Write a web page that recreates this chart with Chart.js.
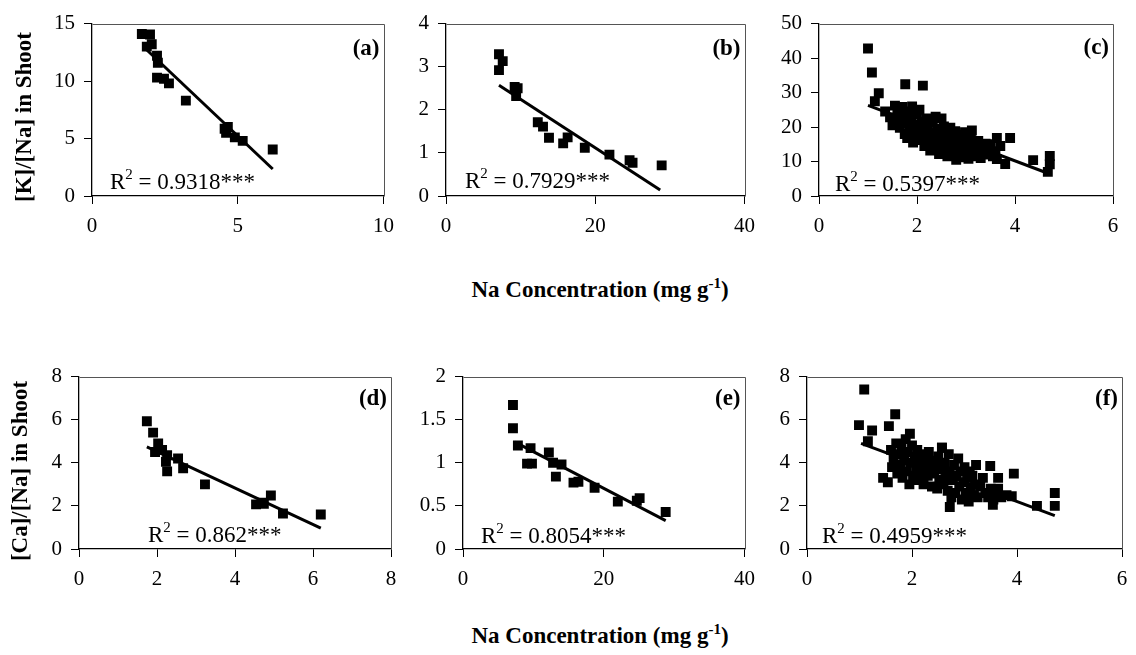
<!DOCTYPE html>
<html>
<head>
<meta charset="utf-8">
<script src="https://cdn.jsdelivr.net/npm/chart.js@4.4.1/dist/chart.umd.min.js"></script>
<style>
  body { margin: 0; background: #fff; }
  #page { position: relative; width: 1136px; height: 655px; overflow: hidden; font-family: "Liberation Serif", "Times New Roman", serif; }
  canvas { position: absolute; }
  .title { position: absolute; font-weight: bold; font-size: 23px; white-space: nowrap; color: #000; transform: translate(-50%, -50%); }
  .title.rot { transform: translate(-50%, -50%) rotate(-90deg); }
  .title sup { font-size: 15px; vertical-align: 9px; line-height: 0; }
</style>
</head>
<body>
<div id="page">
  <canvas id="chartA"></canvas>
  <canvas id="chartB"></canvas>
  <canvas id="chartC"></canvas>
  <canvas id="chartD"></canvas>
  <canvas id="chartE"></canvas>
  <canvas id="chartF"></canvas>
  <div class="title rot" style="left:24px;top:117px;">[K]/[Na] in Shoot</div>
  <div class="title rot" style="left:20px;top:471px;">[Ca]/[Na] in Shoot</div>
  <div class="title" style="left:600px;top:290px;">Na Concentration (mg g<sup>-1</sup>)</div>
  <div class="title" style="left:600px;top:636px;">Na Concentration (mg g<sup>-1</sup>)</div>
</div>
<script>
// (a) [K]/[Na] vs Na, first set
const naA = [1.71, 1.99, 1.88, 2.05, 2.23, 2.26, 2.23, 2.47, 2.64, 3.22, 4.55, 4.66, 4.6, 4.9, 5.17, 6.2];
const kA = [14.1, 14.05, 13.0, 13.2, 12.2, 11.6, 10.3, 10.2, 9.8, 8.3, 5.85, 6.0, 5.5, 5.1, 4.8, 4.05];
const fitXA = [1.8, 6.2];
const fitYA = [12.9, 2.35];

// (b) [K]/[Na] vs Na, second set
const naB = [7.1, 7.6, 7.1, 9.2, 9.6, 9.4, 12.3, 13.0, 13.8, 15.7, 16.3, 18.6, 21.9, 24.6, 25.0, 28.9];
const kB = [3.29, 3.13, 2.92, 2.53, 2.5, 2.32, 1.71, 1.61, 1.35, 1.22, 1.36, 1.12, 0.96, 0.83, 0.77, 0.71];
const fitXB = [7.1, 28.7];
const fitYB = [2.57, 0.14];

// (c) [K]/[Na] vs Na, third set
const naC = [1.0, 1.08, 1.76, 2.12, 1.22, 1.14, 3.9, 3.63, 4.37, 4.71, 4.71, 4.67, 3.8, 3.63, 3.12, 3.43,
  1.35, 1.45, 1.5, 1.55, 1.6, 1.62, 1.65, 1.7, 1.72, 1.75, 1.78, 1.8, 1.82, 1.85, 1.88,
  1.9, 1.92, 1.95, 1.97, 2.0, 2.02, 2.05, 2.08, 2.1, 2.12, 2.15, 2.17, 2.2, 2.22, 2.25, 2.27, 2.3,
  2.32, 2.35, 2.38, 2.4, 2.42, 2.45, 2.47, 2.5, 2.52, 2.55, 2.57, 2.6, 2.62, 2.65, 2.68, 2.7,
  2.72, 2.75, 2.78, 2.8, 2.82, 2.85, 2.88, 2.9, 2.92, 2.95, 2.98, 3.0, 3.02, 3.05, 3.08, 3.1,
  3.15, 3.18, 3.2, 3.25, 3.3, 3.35, 3.4, 3.45, 3.5, 3.55, 3.6, 3.7];
const kC = [42.8, 35.8, 32.4, 32.0, 29.8, 27.5, 16.8, 16.8, 10.4, 11.6, 9.2, 7.0, 9.3, 10.7, 19.0, 15.0,
  24.5, 22.8, 20.5, 26.2, 24.0, 21.5, 19.8, 25.8, 23.2, 18.0, 21.0, 16.8, 24.5, 19.5, 22.5,
  26.0, 15.5, 17.8, 20.8, 23.8, 18.5, 25.0, 16.2, 21.5, 19.0, 14.5, 17.2, 22.5, 20.0, 15.8, 13.2, 18.2,
  21.2, 16.8, 23.0, 14.2, 19.5, 12.2, 17.8, 22.5, 15.2, 20.2, 13.5, 18.5, 11.5, 16.0, 19.8, 14.0,
  17.2, 12.2, 18.8, 10.5, 15.5, 13.2, 17.8, 11.2, 16.2, 14.2, 18.5, 12.0, 15.0, 10.8, 13.8, 17.0,
  11.5, 14.5, 12.8, 16.0, 11.0, 13.5, 15.2, 12.0, 14.0, 11.5, 13.0, 14.5];
const fitXC = [1.0, 4.67];
const fitYC = [26.3, 6.6];

// (d) [Ca]/[Na] vs Na, first set
const naD = [1.74, 1.9, 2.03, 1.95, 2.13, 2.26, 2.23, 2.26, 2.54, 2.67, 3.23, 4.54, 4.69, 4.74, 4.92, 5.23, 6.2];
const caD = [5.93, 5.4, 4.9, 4.5, 4.6, 4.35, 4.05, 3.6, 4.2, 3.75, 3.0, 2.07, 2.15, 2.1, 2.48, 1.65, 1.6];
const fitXD = [1.74, 6.2];
const fitYD = [4.74, 0.97];

// (e) [Ca]/[Na] vs Na, second set
const naE = [7.1, 7.1, 7.8, 9.6, 9.1, 9.8, 12.2, 12.8, 14.0, 13.2, 15.7, 16.4, 18.7, 22.0, 24.7, 25.1, 28.8];
const caE = [1.67, 1.40, 1.2, 1.17, 0.99, 0.99, 1.12, 1.0, 0.98, 0.84, 0.77, 0.78, 0.71, 0.55, 0.56, 0.59, 0.43];
const fitXE = [7.4, 28.8];
const fitYE = [1.24, 0.33];

// (f) [Ca]/[Na] vs Na, third set
const naF = [1.09, 0.99, 1.24, 1.68, 1.56, 1.16, 1.45, 1.54, 3.49, 3.64, 3.94, 4.38, 4.72, 4.72, 2.72, 2.57, 1.96, 3.54, 3.9, 3.64,
  1.6, 1.62, 1.65, 1.7, 1.72, 1.75, 1.78, 1.8, 1.82, 1.85, 1.88, 1.9, 1.92, 1.95, 1.97, 2.0,
  2.02, 2.05, 2.08, 2.1, 2.12, 2.15, 2.18, 2.2, 2.22, 2.25, 2.28, 2.3, 2.32, 2.35, 2.38, 2.4,
  2.42, 2.45, 2.48, 2.5, 2.52, 2.55, 2.57, 2.6, 2.62, 2.65, 2.68, 2.7, 2.72, 2.75, 2.78, 2.8,
  2.82, 2.85, 2.88, 2.9, 2.92, 2.95, 2.98, 3.0, 3.02, 3.05, 3.08, 3.1, 3.12, 3.15, 3.18, 3.2,
  3.22, 3.25, 3.3, 3.35, 3.4, 3.45, 3.5, 3.55, 3.6, 3.7, 3.8];
const caF = [7.4, 5.75, 5.5, 6.25, 5.7, 5.0, 3.3, 3.1, 3.85, 3.3, 3.5, 2.0, 2.6, 2.0, 1.95, 4.7, 5.35, 2.05, 2.45, 2.8,
  4.6, 3.8, 4.2, 4.9, 3.5, 4.4, 3.9, 4.7, 3.3, 4.1, 5.1, 3.6, 4.5, 3.0, 4.0, 4.8,
  3.4, 4.3, 3.8, 4.6, 3.2, 4.0, 3.6, 4.4, 3.0, 3.9, 4.2, 3.4, 4.5, 3.7, 2.9, 4.1,
  3.5, 3.9, 2.8, 4.3, 3.2, 3.7, 4.7, 3.0, 4.0, 3.4, 2.7, 4.4, 3.6, 2.4, 3.2, 3.9,
  2.6, 3.4, 4.2, 2.9, 3.6, 2.3, 3.1, 3.8, 2.6, 3.3, 2.2, 3.6, 2.8, 3.4, 2.5, 3.0,
  3.9, 2.4, 2.9, 3.3, 2.6, 2.4, 2.8, 2.3, 2.7, 2.4, 2.5];
const fitXF = [1.03, 4.72];
const fitYF = [4.9, 1.55];

const panelLabels = ['(a)', '(b)', '(c)', '(d)', '(e)', '(f)'];
const r2Values = ['0.9318', '0.7929', '0.5397', '0.862', '0.8054', '0.4959'];

const FONT = '"Liberation Serif", "Times New Roman", serif';

function pairs(xs, ys) {
  return xs.map((x, i) => ({ x: x, y: ys[i] }));
}

// top/right frame of the plot area plus the panel letter and R² note
const panelText = {
  id: 'panelText',
  beforeDatasetsDraw(chart) {
    const a = chart.chartArea;
    const ctx = chart.ctx;
    ctx.save();
    ctx.strokeStyle = '#555';
    ctx.lineWidth = 1;
    ctx.beginPath();
    ctx.moveTo(Math.round(a.left) + 0.5, Math.round(a.top) + 0.5);
    ctx.lineTo(Math.round(a.right) + 0.5, Math.round(a.top) + 0.5);
    ctx.lineTo(Math.round(a.right) + 0.5, Math.round(a.bottom) + 0.5);
    ctx.stroke();
    ctx.restore();
  },
  afterDatasetsDraw(chart, args, opts) {
    const a = chart.chartArea;
    const ctx = chart.ctx;
    ctx.save();
    ctx.fillStyle = '#000';
    ctx.textBaseline = 'alphabetic';
    ctx.textAlign = 'right';
    ctx.font = 'bold 23px ' + FONT;
    ctx.fillText(opts.label, a.right - 4, a.top + opts.ly);

    ctx.textAlign = 'left';
    let x = a.left + opts.rx;
    const y = a.bottom - opts.ry;
    ctx.font = '23px ' + FONT;
    ctx.fillText('R', x, y);
    x += ctx.measureText('R').width;
    ctx.font = '15px ' + FONT;
    ctx.fillText('2', x, y - 10);
    x += ctx.measureText('2').width;
    ctx.font = '23px ' + FONT;
    ctx.fillText(' = ' + opts.r2 + '***', x, y);
    ctx.restore();
  }
};

function makePanel(id, box, xs, ys, fx, fy, xMax, xStep, yMax, yStep, idx, textPos) {
  const cv = document.getElementById(id);
  const w = box.right - box.left + 80;
  const h = box.bottom - box.top + 70;
  cv.width = w;
  cv.height = h;
  cv.style.left = (box.left - 60) + 'px';
  cv.style.top = (box.top - 20) + 'px';
  cv.style.width = w + 'px';
  cv.style.height = h + 'px';

  const tickFont = { family: FONT, size: 21 };
  const axisCommon = {
    grid: { drawOnChartArea: false, drawTicks: true, tickLength: 8, color: '#000', lineWidth: 1 },
    border: { display: true, color: '#000', width: 1.3 }
  };

  return new Chart(cv, {
    type: 'scatter',
    data: {
      datasets: [
        {
          type: 'line',
          data: pairs(fx, fy),
          borderColor: '#000',
          borderWidth: 3,
          pointRadius: 0,
          fill: false
        },
        {
          data: pairs(xs, ys),
          pointStyle: 'rect',
          pointRadius: 7,
          pointHoverRadius: 7,
          backgroundColor: '#000',
          borderColor: '#000',
          borderWidth: 0
        }
      ]
    },
    options: {
      responsive: false,
      animation: false,
      devicePixelRatio: 1,
      layout: { padding: { top: 20, right: 20, left: 0, bottom: 0 } },
      plugins: {
        legend: { display: false },
        tooltip: { enabled: false },
        panelText: { label: panelLabels[idx], r2: r2Values[idx], rx: textPos[0], ry: textPos[1], ly: textPos[2] }
      },
      scales: {
        x: Object.assign({}, axisCommon, {
          type: 'linear',
          min: 0, max: xMax,
          ticks: { stepSize: xStep, color: '#000', font: tickFont, padding: 10, maxRotation: 0, callback: v => String(v) },
          afterFit(scale) { scale.height = 50; }
        }),
        y: Object.assign({}, axisCommon, {
          type: 'linear',
          min: 0, max: yMax,
          ticks: { stepSize: yStep, color: '#000', font: tickFont, padding: 9, callback: v => String(v) },
          afterFit(scale) { scale.width = 60; }
        })
      }
    },
    plugins: [panelText]
  });
}

function buildAll() {
  makePanel('chartA', { left: 92, top: 22, right: 384, bottom: 196 }, naA, kA, fitXA, fitYA, 10, 5, 15, 5, 0, [18, 7, 31]);
  makePanel('chartB', { left: 446, top: 22, right: 745, bottom: 196 }, naB, kB, fitXB, fitYB, 40, 20, 4, 1, 1, [19, 8, 31]);
  makePanel('chartC', { left: 819, top: 22, right: 1113, bottom: 196 }, naC, kC, fitXC, fitYC, 6, 2, 50, 10, 2, [16, 5, 30]);
  makePanel('chartD', { left: 79, top: 375, right: 391, bottom: 549 }, naD, caD, fitXD, fitYD, 8, 2, 8, 2, 3, [69, 7, 28]);
  makePanel('chartE', { left: 463, top: 375, right: 745, bottom: 549 }, naE, caE, fitXE, fitYE, 40, 20, 2, 0.5, 4, [18, 6, 28]);
  makePanel('chartF', { left: 807, top: 375, right: 1122, bottom: 549 }, naF, caF, fitXF, fitYF, 6, 2, 8, 2, 5, [15, 6, 28]);
}

// make sure the serif face is ready before the canvases draw text
Promise.all([
  document.fonts.load('23px "Liberation Serif"'),
  document.fonts.load('bold 23px "Liberation Serif"')
]).then(buildAll, buildAll);
</script>
</body>
</html>
